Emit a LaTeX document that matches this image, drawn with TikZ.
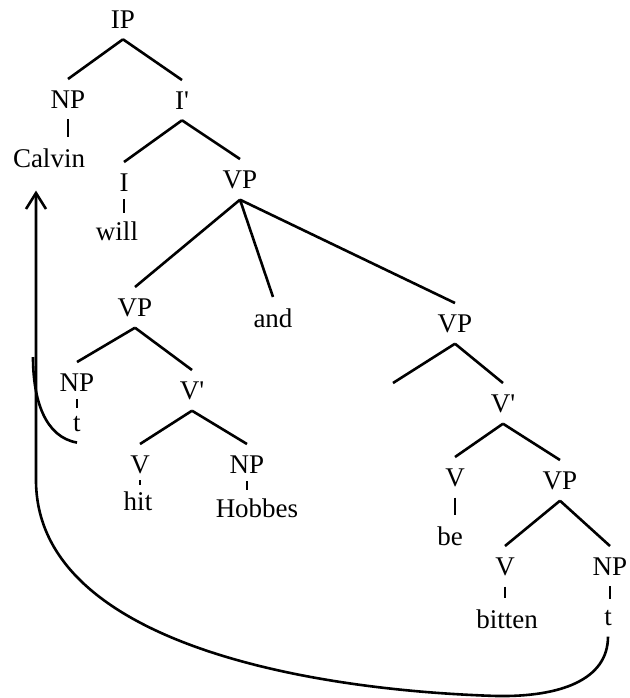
\documentclass[tikz,border=0pt]{standalone}
\usepackage{fontspec}
\setmainfont{Liberation Serif}[Ligatures=TeXOff]
\usetikzlibrary{arrows.meta}

\begin{document}
\begin{tikzpicture}[x=.5pt,y=-.5pt,line width=1.3pt,
  every node/.style={anchor=base,inner xsep=0pt,inner ysep=5pt,font=\fontsize{13.5}{16}\selectfont},
  tick/.style={shorten <=-1.5pt,shorten >=-1.5pt}]
  \useasboundingbox (0,0) rectangle (629,698);

  \node (ip) at (123,28) {IP};
  \node (np) at (68,108) {NP};
  \node (ibar) at (182,109) {I'};
  \node (calvin) at (49,167) {Calvin};
  \node (i) at (124,191) {I};
  \node (vp) at (240,188) {VP};
  \node (will) at (117,240) {will};
  \draw (ip.south) -- (np.north) (ip.south) -- (ibar.north);
  \draw (np.south) -- (np.south |- calvin.north);
  \draw (ibar.south) -- (i.north) (ibar.south) -- (vp.north);
  \draw[tick] (i.south) -- (i.south |- will.north);

  \node (vpa) at (135,316) {VP};
  \node (and) at (273,327) {and};
  \node (vpb) at (455,332) {VP};
  \draw (vp.south) -- (vpa.north) (vp.south) -- (and.north) (vp.south) -- (vpb.north);

  \node (npa) at (77,391) {NP};
  \node (ta) at (77,431) {t};
  \node (vbara) at (192,399) {V'};
  \node (va) at (140,473) {V};
  \node (npb) at (247,473) {NP};
  \node (hit) at (138,510) {hit};
  \node (hobbes) at (257,517) {Hobbes};
  \draw (vpa.south) -- (npa.north) (vpa.south) -- (vbara.north);
  \draw[tick] (npa.south) -- (npa.south |- ta.north);
  \draw (vbara.south) -- (va.north) (vbara.south) -- (npb.north);
  \draw[tick] (va.south) -- (va.south |- hit.north) (npb.south) -- (npb.south |- hobbes.north);

  \coordinate (empty) at (393,383);
  \node (vbarb) at (503,412) {V'};
  \node (vb) at (455,486) {V};
  \node (vpc) at (560,489) {VP};
  \node (be) at (450,545) {be};
  \node (vc) at (505,575) {V};
  \node (npc) at (610,575) {NP};
  \node (bitten) at (507,628) {bitten};
  \node (tb) at (608,625) {t};
  \draw (vpb.south) -- (empty) (vpb.south) -- (vbarb.north);
  \draw (vbarb.south) -- (vb.north) (vbarb.south) -- (vpc.north);
  \draw (vb.south) -- (vb.south |- be.north);
  \draw (vpc.south) -- (vc.north) (vpc.south) -- (npc.north);
  \draw (vc.south) -- (vc.south |- bitten.north) (npc.south) -- (npc.south |- tb.north);

  % movement
  \coordinate (trace) at (33,357);
  \coordinate (bottom) at (497,696);
  \coordinate (bend) at (36,480);
  \draw (ta.south) .. controls (45,437) and (33,400) .. (trace);
  \draw[-{Straight Barb[length=8pt,width=10pt]},shorten >=6pt]
    (tb.south) .. controls (608,680) and (560,697) .. (bottom)
    .. controls (300,690) and (36,640) .. (bend) -- (bend |- calvin.south);
\end{tikzpicture}
\end{document}
